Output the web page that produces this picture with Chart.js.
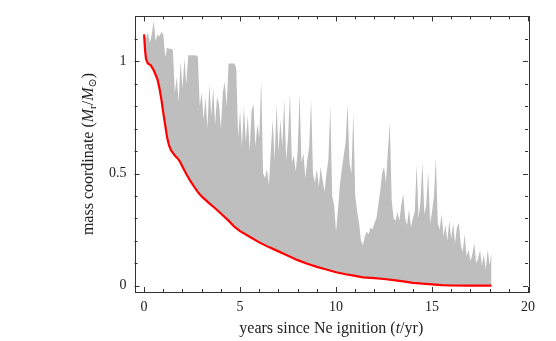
<!DOCTYPE html>
<html>
<head>
<meta charset="utf-8">
<script src="https://cdn.jsdelivr.net/npm/chart.js@4"></script>
<style>
  body { margin: 0; background: #fff; }
  #wrap { width: 556px; height: 341px; }
</style>
</head>
<body>
<div id="wrap"><canvas id="grafico" width="556" height="341"></canvas></div>
<script>
// ticks del eje
const ticksX = [0, 5, 10, 15, 20];
const ticksY = [0, 0.5, 1];

// linea roja: borde interno (t en años, masa en Msol)
const rojaT = [0, 0.05, 0.1, 0.2, 0.35, 0.5, 0.6, 0.7, 0.8, 0.9, 1.0, 1.1, 1.2, 1.3, 1.4,
  1.6, 1.8, 1.9, 2.0, 2.2, 2.4, 2.6, 2.8, 3.0, 3.4, 3.7, 4.0, 4.4, 4.7, 5.0, 5.5, 6.0,
  6.5, 7.0, 7.5, 8.0, 8.5, 9.0, 9.5, 10.0, 10.5, 11.0, 11.4, 12.0, 12.5, 13.0, 13.5,
  14.0, 14.5, 15.0, 15.5, 16.0, 17.0, 18.1];
const rojaM = [1.12, 1.05, 1.01, 0.99, 0.982, 0.96, 0.94, 0.918, 0.88, 0.83, 0.77, 0.715, 0.66, 0.625, 0.604,
  0.58, 0.562, 0.548, 0.53, 0.498, 0.468, 0.442, 0.417, 0.398, 0.367, 0.345, 0.322, 0.29, 0.263, 0.243, 0.218, 0.193,
  0.172, 0.153, 0.134, 0.114, 0.098, 0.084, 0.072, 0.06, 0.051, 0.044, 0.037, 0.034, 0.03, 0.025, 0.019,
  0.013, 0.009, 0.006, 0.003, 0.001, 0, 0];

// zona gris: borde superior de la convección
const grisT = [
  0.0, 0.1, 0.2, 0.3, 0.4, 0.5, 0.6, 0.7, 0.8, 0.9,
  1.0, 1.1, 1.2, 1.3, 1.4, 1.5, 1.6, 1.7, 1.8, 1.9,
  2.0, 2.1, 2.2, 2.3, 2.4, 2.5, 2.6, 2.7, 2.8, 2.9,
  3.0, 3.1, 3.2, 3.3, 3.4, 3.5, 3.6, 3.7, 3.8, 3.9,
  4.0, 4.1, 4.2, 4.3, 4.4, 4.5, 4.6, 4.7, 4.8, 4.9,
  5.0, 5.1, 5.2, 5.3, 5.4, 5.5, 5.6, 5.7, 5.8, 5.9,
  6.0, 6.1, 6.2, 6.3, 6.4, 6.5, 6.6, 6.7, 6.8, 6.9,
  7.0, 7.1, 7.2, 7.3, 7.4, 7.5, 7.6, 7.7, 7.8, 7.9,
  8.0, 8.1, 8.2, 8.3, 8.4, 8.5, 8.6, 8.7, 8.8, 8.9,
  9.0, 9.1, 9.2, 9.3, 9.4, 9.5, 9.6, 9.7, 9.8, 9.9,
  10.0, 10.1, 10.2, 10.3, 10.4, 10.5, 10.6, 10.7, 10.8, 10.9,
  11.0, 11.1, 11.2, 11.3, 11.4, 11.5, 11.6, 11.7, 11.8, 11.9,
  12.0, 12.1, 12.2, 12.3, 12.4, 12.5, 12.6, 12.7, 12.8, 12.9,
  13.0, 13.1, 13.2, 13.3, 13.4, 13.5, 13.6, 13.7, 13.8, 13.9,
  14.0, 14.1, 14.2, 14.3, 14.4, 14.5, 14.6, 14.7, 14.8, 14.9,
  15.0, 15.1, 15.2, 15.3, 15.4, 15.5, 15.6, 15.7, 15.8, 15.9,
  16.0, 16.1, 16.2, 16.3, 16.4, 16.5, 16.6, 16.7, 16.8, 16.9,
  17.0, 17.1, 17.2, 17.3, 17.4, 17.5, 17.6, 17.7, 17.8, 17.9,
  18.0, 18.1];
const grisM = [
  1.12, 1.10, 1.13, 1.08, 1.12, 1.18, 1.09, 1.12, 1.11, 1.13,
  1.12, 1.02, 1.06, 1.056, 1.056, 1.05, 0.86, 0.93, 0.82, 1.0,
  0.88, 1.01, 0.9, 1.027, 1.027, 1.027, 1.027, 1.027, 1.02, 0.8,
  0.86, 0.74, 0.84, 0.70, 0.90, 0.76, 0.88, 0.72, 0.84, 0.81,
  0.70, 0.86, 0.91, 0.80, 0.99, 0.99, 0.99, 0.99, 0.97, 0.66,
  0.78, 0.62, 0.80, 0.64, 0.76, 0.60, 0.78, 0.81, 0.62, 0.72,
  0.66, 0.915, 0.50, 0.48, 0.52, 0.45, 0.60, 0.74, 0.56, 0.81,
  0.60, 0.74, 0.62, 0.83, 0.56, 0.66, 0.856, 0.55, 0.58, 0.51,
  0.60, 0.86, 0.55, 0.59, 0.48, 0.56, 0.62, 0.83, 0.50, 0.46,
  0.52, 0.44, 0.53, 0.47, 0.42, 0.50, 0.56, 0.80, 0.40, 0.36,
  0.24, 0.34, 0.45, 0.52, 0.58, 0.64, 0.81, 0.55, 0.50, 0.77,
  0.40, 0.33, 0.28, 0.20, 0.18, 0.22, 0.24, 0.23, 0.26, 0.25,
  0.28, 0.30, 0.36, 0.42, 0.50, 0.53, 0.46, 0.60, 0.725, 0.38,
  0.30, 0.29, 0.33, 0.29, 0.36, 0.41, 0.30, 0.27, 0.34, 0.26,
  0.30, 0.33, 0.54, 0.30, 0.38, 0.55, 0.32, 0.36, 0.51, 0.28,
  0.33, 0.40, 0.57, 0.28, 0.25, 0.32, 0.22, 0.27, 0.20, 0.29,
  0.21, 0.28, 0.19, 0.26, 0.28, 0.18, 0.15, 0.23, 0.13, 0.16,
  0.11, 0.14, 0.19, 0.10, 0.12, 0.16, 0.09, 0.14, 0.07, 0.16,
  0.09, 0.15];

const FUENTE = "'Liberation Serif', 'DejaVu Serif', serif";

// dibuja texto con partes en cursiva / subindice
function textoMixto(ctx, partes, cx, cy) {
  let ancho = 0;
  partes.forEach((p) => {
    ctx.font = p.f;
    ancho += ctx.measureText(p.t).width;
  });
  let x = cx - ancho / 2;
  partes.forEach((p) => {
    ctx.font = p.f;
    ctx.fillText(p.t, x, cy + (p.dy || 0));
    x += ctx.measureText(p.t).width;
  });
}

// marco, ticks hacia adentro y titulos de ejes
const marcoPlugin = {
  id: "marco",
  afterDraw(chart) {
    const { ctx, chartArea: a, scales } = chart;
    const sx = scales.x, sy = scales.y;
    ctx.save();
    ctx.strokeStyle = "#333";
    ctx.lineWidth = 1;
    ctx.strokeRect(Math.round(a.left) + 0.5, Math.round(a.top) + 0.5,
      Math.round(a.right - a.left), Math.round(a.bottom - a.top));
    ctx.beginPath();
    for (let v = 0; v <= 20; v++) {
      const px = Math.round(sx.getPixelForValue(v)) + 0.5;
      const l = v % 5 === 0 ? 5 : 3;
      ctx.moveTo(px, a.bottom); ctx.lineTo(px, a.bottom - l);
      ctx.moveTo(px, a.top); ctx.lineTo(px, a.top + l);
    }
    for (let i = 0; i <= 11; i++) {
      const py = Math.round(sy.getPixelForValue(i / 10)) + 0.5;
      const l = i % 5 === 0 ? 5 : 3;
      ctx.moveTo(a.left, py); ctx.lineTo(a.left + l, py);
      ctx.moveTo(a.right, py); ctx.lineTo(a.right - l, py);
    }
    ctx.stroke();

    ctx.fillStyle = "#222";
    ctx.textBaseline = "middle";
    ctx.textAlign = "left";
    const n = "16px " + FUENTE, it = "italic 16px " + FUENTE, sub = "11px " + FUENTE;
    textoMixto(ctx, [
      { t: "years since Ne ignition (", f: n },
      { t: "t", f: it },
      { t: "/yr)", f: n },
    ], (a.left + a.right) / 2, 329);

    ctx.translate(89, 154);
    ctx.rotate(-Math.PI / 2);
    textoMixto(ctx, [
      { t: "mass coordinate (", f: n },
      { t: "M", f: it },
      { t: "r", f: sub, dy: 4 },
      { t: "/", f: n },
      { t: "M", f: it },
      { t: "\u2299", f: sub, dy: 4 },
      { t: ")", f: n },
    ], 0, 0);
    ctx.restore();
  },
};

new Chart(document.getElementById("grafico"), {
  type: "line",
  data: {
    datasets: [
      {
        label: "borde interno",
        data: rojaT.map((t, i) => ({ x: t, y: rojaM[i] })),
        borderColor: "#ff0000",
        borderWidth: 2.2,
        pointRadius: 0,
        fill: false,
      },
      {
        label: "conveccion",
        data: grisT.map((t, i) => ({ x: t, y: grisM[i] })),
        borderWidth: 0,
        borderColor: "rgba(0,0,0,0)",
        backgroundColor: "#bebebe",
        pointRadius: 0,
        fill: "-1",
      },
    ],
  },
  options: {
    responsive: false,
    animation: false,
    layout: { padding: { left: 0, right: 28, top: 16, bottom: 0 } },
    plugins: { legend: { display: false }, tooltip: { enabled: false } },
    scales: {
      x: {
        type: "linear",
        min: -0.5,
        max: 20,
        grid: { display: false, drawTicks: false },
        border: { display: false },
        afterBuildTicks: (s) => { s.ticks = ticksX.map((v) => ({ value: v })); },
        afterFit: (s) => { s.height = 49; },
        ticks: { padding: 7, color: "#222", font: { family: FUENTE, size: 14 }, maxRotation: 0 },
      },
      y: {
        type: "linear",
        min: -0.028,
        max: 1.2,
        grid: { display: false, drawTicks: false },
        border: { display: false },
        afterBuildTicks: (s) => { s.ticks = ticksY.map((v) => ({ value: v })); },
        afterFit: (s) => { s.width = 134.5; },
        ticks: { padding: 8, color: "#222", font: { family: FUENTE, size: 14 }, callback: (v) => String(v) },
      },
    },
  },
  plugins: [marcoPlugin],
});
</script>
</body>
</html>
